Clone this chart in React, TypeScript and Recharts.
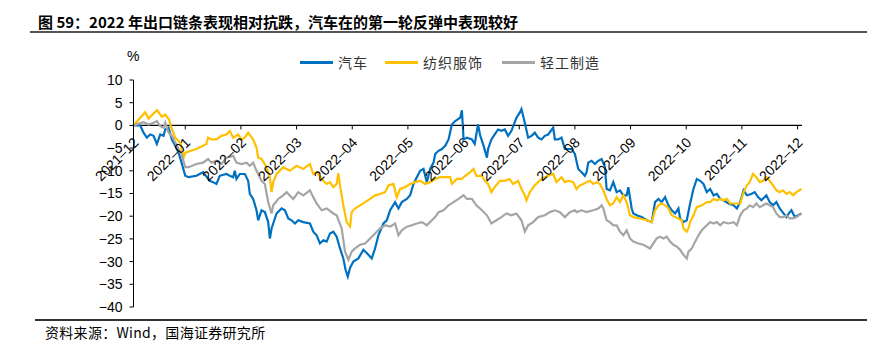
import React from "react";
import { LineChart, Line, XAxis, YAxis, ReferenceLine } from "recharts";

// x = months since the 2021-12 tick, y = cumulative change (%)
const autoSeries: [number, number][] = [
  [0.0, 0], [0.12, 0], [0.18, -1.6], [0.24, -2.7], [0.3, -2.0], [0.36, -2.3], [0.42, -4.1], [0.48, -2.0],
  [0.54, -2.3], [0.57, -0.9], [0.63, -0.5], [0.69, -3.1], [0.75, -4.5], [0.81, -6.0], [0.87, -8.5],
  [0.93, -11.1], [0.99, -11.4], [1.13, -11.1], [1.25, -10.3], [1.37, -12.2], [1.43, -12.5], [1.49, -12.9],
  [1.55, -11.1], [1.67, -10.7], [1.73, -11.1], [1.79, -11.4], [1.82, -10.0], [1.85, -11.8], [1.91, -10.7],
  [2.0, -10.7], [2.06, -12.2], [2.09, -15.1], [2.15, -16.2], [2.21, -18.7], [2.24, -20.9], [2.3, -18.7],
  [2.36, -19.1], [2.42, -21.3], [2.45, -24.9], [2.48, -22.7], [2.57, -19.4], [2.66, -18.3], [2.72, -18.7],
  [2.78, -20.5], [2.84, -20.9], [2.9, -21.6], [2.96, -20.9], [3.05, -21.3], [3.17, -21.6], [3.23, -23.4],
  [3.29, -24.2], [3.35, -26.0], [3.41, -25.3], [3.47, -25.6], [3.53, -23.8], [3.59, -23.4], [3.65, -24.5],
  [3.71, -27.1], [3.77, -29.3], [3.81, -31.8], [3.85, -33.3], [3.89, -31.4], [3.95, -30.0], [4.04, -29.3],
  [4.13, -27.4], [4.22, -28.5], [4.28, -29.3], [4.34, -27.1], [4.4, -24.2], [4.49, -21.6], [4.55, -20.9],
  [4.61, -18.7], [4.7, -16.9], [4.76, -18.3], [4.82, -16.9], [4.91, -16.2], [4.97, -15.4], [5.03, -12.9],
  [5.09, -11.4], [5.15, -10.0], [5.21, -9.6], [5.27, -12.5], [5.33, -9.6], [5.39, -8.2], [5.42, -6.3],
  [5.48, -5.6], [5.54, -5.2], [5.6, -4.5], [5.66, -3.1], [5.72, 0.2], [5.78, 0.95], [5.87, 1.7], [5.9, 3.35],
  [5.93, -3.1], [5.99, -2.7], [6.08, -3.1], [6.13, -4.1], [6.19, 0.2], [6.23, -2.3], [6.29, -4.5], [6.35, -7.1],
  [6.37, -5.2], [6.43, -3.1], [6.49, -2.0], [6.55, -0.9], [6.61, -1.2], [6.67, -0.9], [6.73, -2.3], [6.79, -1.2],
  [6.88, 1.7], [6.94, 2.8], [6.97, 3.6], [7.03, 0.6], [7.09, -2.7], [7.15, -2.3], [7.21, -1.6], [7.27, -2.7],
  [7.33, -3.1], [7.39, -2.3], [7.45, -2.0], [7.54, -0.5], [7.57, -3.1], [7.63, -3.1], [7.69, -2.7], [7.75, -5.2],
  [7.81, -5.2], [7.87, -5.2], [7.93, -6.3], [7.99, -9.6], [8.05, -10.3], [8.11, -11.1], [8.14, -10.3],
  [8.17, -8.2], [8.23, -7.8], [8.29, -8.5], [8.35, -7.8], [8.41, -7.4], [8.47, -9.2], [8.5, -14.0],
  [8.56, -14.3], [8.62, -12.5], [8.68, -14.7], [8.74, -14.3], [8.8, -15.4], [8.86, -15.4], [8.89, -13.6],
  [8.95, -18.3], [8.98, -19.4], [9.04, -19.8], [9.13, -20.2], [9.22, -20.9], [9.31, -21.3], [9.37, -16.9],
  [9.43, -16.2], [9.49, -16.9], [9.55, -15.8], [9.61, -17.6], [9.67, -18.7], [9.73, -19.4], [9.79, -18.3],
  [9.82, -20.5], [9.88, -21.3], [9.94, -20.9], [10.0, -17.2], [10.06, -14.0], [10.12, -11.8], [10.18, -12.2],
  [10.24, -12.9], [10.3, -14.7], [10.36, -14.0], [10.42, -15.4], [10.48, -15.1], [10.54, -16.2], [10.6, -16.5],
  [10.69, -17.2], [10.78, -17.6], [10.84, -18.3], [10.9, -16.9], [10.96, -14.3], [11.02, -15.4], [11.1, -15.1],
  [11.16, -14.7], [11.22, -15.8], [11.28, -16.5], [11.37, -15.4], [11.43, -16.9], [11.49, -17.6], [11.55, -16.9],
  [11.61, -18.3], [11.73, -20.2], [11.79, -19.1], [11.82, -18.7], [11.88, -20.2], [11.94, -19.8], [12.0, -19.4],
];

const textileSeries: [number, number][] = [
  [0.0, 0], [0.21, 2.9], [0.27, 1.5], [0.42, 3.35], [0.51, 1.9], [0.57, 2.4], [0.64, 1.3], [0.67, -0.15],
  [0.75, -2.7], [0.84, -3.8], [0.9, -7.1], [0.93, -6.0], [1.13, -5.2], [1.31, -4.1], [1.34, -2.7], [1.4, -3.1],
  [1.49, -3.1], [1.58, -2.3], [1.67, -2.0], [1.73, -1.2], [1.79, -2.7], [1.88, -2.0], [1.94, -3.1], [2.0, -2.7],
  [2.06, -1.6], [2.15, -3.1], [2.21, -4.9], [2.24, -7.1], [2.3, -7.4], [2.39, -9.2], [2.45, -11.4], [2.48, -14.7],
  [2.51, -12.5], [2.57, -10.7], [2.69, -9.2], [2.81, -10.0], [2.93, -8.9], [3.05, -9.6], [3.17, -8.5],
  [3.23, -10.7], [3.29, -10.3], [3.41, -12.2], [3.47, -12.9], [3.53, -12.5], [3.59, -13.6], [3.65, -12.9],
  [3.68, -10.5], [3.71, -13.2], [3.77, -17.6], [3.83, -21.3], [3.89, -22.3], [3.92, -19.1], [3.98, -18.3],
  [4.07, -17.6], [4.16, -16.9], [4.25, -16.2], [4.34, -15.4], [4.43, -15.1], [4.52, -14.7], [4.58, -13.2],
  [4.67, -12.9], [4.73, -15.8], [4.79, -14.0], [4.88, -13.6], [4.97, -12.9], [5.06, -12.5], [5.15, -12.2],
  [5.24, -12.9], [5.33, -12.5], [5.42, -11.8], [5.51, -11.4], [5.6, -11.4], [5.69, -11.4], [5.72, -12.9],
  [5.81, -11.8], [5.9, -11.8], [5.96, -11.1], [6.05, -10.3], [6.11, -9.6], [6.16, -11.1], [6.26, -11.1],
  [6.31, -12.2], [6.37, -12.9], [6.43, -14.7], [6.49, -13.6], [6.58, -12.2], [6.67, -12.2], [6.76, -11.8],
  [6.82, -12.9], [6.91, -12.2], [6.97, -14.0], [7.03, -15.4], [7.06, -16.5], [7.12, -14.7], [7.21, -13.2],
  [7.33, -11.8], [7.45, -11.1], [7.54, -10.7], [7.6, -12.5], [7.69, -11.4], [7.75, -12.5], [7.81, -12.2],
  [7.9, -12.5], [7.96, -14.0], [8.02, -13.2], [8.08, -12.9], [8.14, -12.5], [8.2, -12.2], [8.26, -12.9],
  [8.32, -12.5], [8.38, -12.9], [8.44, -14.3], [8.5, -16.2], [8.56, -17.6], [8.62, -17.2], [8.68, -15.8],
  [8.74, -16.9], [8.8, -15.4], [8.86, -16.9], [8.92, -19.8], [8.98, -20.2], [9.1, -20.5], [9.22, -20.9],
  [9.31, -21.3], [9.37, -18.7], [9.43, -17.6], [9.49, -17.2], [9.55, -17.6], [9.61, -18.3], [9.67, -19.8],
  [9.73, -20.2], [9.79, -20.5], [9.85, -20.9], [9.88, -22.7], [9.94, -23.4], [9.97, -22.7], [10.0, -21.3],
  [10.06, -19.8], [10.12, -18.0], [10.21, -17.6], [10.3, -16.9], [10.36, -16.9], [10.42, -16.2], [10.48, -16.5],
  [10.54, -16.2], [10.6, -16.5], [10.66, -16.2], [10.72, -17.2], [10.78, -17.2], [10.9, -17.2], [10.96, -14.7],
  [11.02, -13.2], [11.07, -12.5], [11.13, -10.7], [11.19, -11.4], [11.25, -12.5], [11.31, -12.2], [11.37, -11.4],
  [11.43, -12.2], [11.49, -13.2], [11.55, -14.3], [11.61, -14.7], [11.67, -14.3], [11.73, -15.1], [11.79, -14.7],
  [11.85, -15.4], [11.91, -14.7], [12.0, -14.0],
];

const lightSeries: [number, number][] = [
  [0.0, 0], [0.18, 0.7], [0.27, 0.2], [0.36, 0.6], [0.42, 0.95], [0.48, -0.15], [0.54, -0.5], [0.57, 0.6],
  [0.63, -1.6], [0.69, -2.3], [0.78, -4.5], [0.87, -6.7], [0.93, -9.2], [0.99, -9.2], [1.13, -8.5], [1.25, -8.2],
  [1.34, -7.4], [1.4, -8.2], [1.49, -7.8], [1.58, -8.5], [1.67, -7.1], [1.79, -6.7], [1.85, -8.2], [1.94, -8.5],
  [2.03, -8.2], [2.09, -8.9], [2.15, -8.2], [2.21, -10.0], [2.3, -12.2], [2.36, -12.9], [2.42, -16.9],
  [2.48, -19.4], [2.51, -17.6], [2.6, -16.2], [2.69, -15.4], [2.75, -14.7], [2.87, -16.2], [2.96, -14.7],
  [3.05, -15.4], [3.17, -14.3], [3.23, -15.8], [3.29, -17.2], [3.38, -18.7], [3.47, -18.3], [3.59, -19.4],
  [3.65, -19.8], [3.74, -22.7], [3.8, -27.8], [3.86, -29.6], [3.92, -27.8], [3.98, -27.1], [4.07, -26.3],
  [4.16, -26.0], [4.25, -24.9], [4.34, -23.8], [4.43, -22.7], [4.52, -22.0], [4.61, -22.3], [4.7, -21.6],
  [4.76, -24.2], [4.82, -23.1], [4.91, -22.3], [5.0, -22.0], [5.09, -21.6], [5.18, -21.3], [5.27, -22.0],
  [5.36, -20.9], [5.42, -20.2], [5.48, -19.1], [5.57, -18.7], [5.66, -17.6], [5.75, -16.9], [5.84, -16.2],
  [5.93, -15.4], [5.99, -16.2], [6.08, -16.2], [6.16, -17.6], [6.26, -18.7], [6.35, -19.8], [6.43, -21.6],
  [6.52, -20.9], [6.61, -20.2], [6.7, -19.4], [6.79, -19.8], [6.88, -19.4], [6.97, -20.9], [7.03, -23.4],
  [7.09, -22.0], [7.18, -21.3], [7.27, -20.2], [7.39, -19.8], [7.48, -19.1], [7.57, -18.7], [7.66, -19.1],
  [7.75, -20.2], [7.84, -19.1], [7.93, -18.7], [7.96, -19.1], [8.05, -18.7], [8.14, -19.1], [8.26, -18.7],
  [8.35, -18.3], [8.41, -17.6], [8.44, -18.3], [8.5, -20.9], [8.56, -21.3], [8.62, -22.0], [8.68, -22.0],
  [8.74, -23.4], [8.8, -24.2], [8.86, -23.1], [8.92, -24.9], [8.98, -25.6], [9.07, -26.0], [9.16, -26.3],
  [9.28, -27.1], [9.34, -26.0], [9.4, -24.9], [9.46, -24.5], [9.52, -24.9], [9.58, -24.5], [9.64, -25.6],
  [9.7, -26.3], [9.76, -26.7], [9.82, -27.4], [9.88, -28.5], [9.94, -29.3], [9.97, -27.8], [10.03, -27.1],
  [10.09, -25.6], [10.15, -24.2], [10.21, -23.1], [10.3, -22.0], [10.36, -21.3], [10.42, -21.6], [10.48, -21.3],
  [10.54, -22.0], [10.6, -21.3], [10.69, -21.6], [10.78, -21.3], [10.84, -22.0], [10.9, -19.8], [10.96, -18.7],
  [11.02, -18.3], [11.07, -17.6], [11.13, -18.0], [11.19, -17.2], [11.25, -18.0], [11.31, -17.6], [11.37, -17.2],
  [11.43, -17.6], [11.49, -18.0], [11.55, -19.4], [11.61, -20.2], [11.67, -20.2], [11.73, -19.8], [11.79, -20.5],
  [11.85, -20.5], [11.91, -20.2], [12.0, -19.4],
];

const seriesNames = ["汽车", "纺织服饰", "轻工制造"];
const seriesColors = ["#0070C0", "#FFC000", "#A5A5A5"];
const xTickLabels = [
  "2021–12", "2022–01", "2022–02", "2022–03", "2022–04", "2022–05", "2022–06",
  "2022–07", "2022–08", "2022–09", "2022–10", "2022–11", "2022–12",
];
const yTicks = [10, 5, 0, -5, -10, -15, -20, -25, -30, -35, -40];

const W = 875;
const H = 359;
const M = { top: 80, right: 73, bottom: 51, left: 0 };
const Y_AXIS_W = 133.5;
const X_AXIS_H = 1;
const Y_MIN = -40;
const Y_MAX = 10;
const X_MAX = 12.01;
const TICK_SHIFT = 0.07;
const xTickPos = xTickLabels.map((_, i) => (i === 0 ? 0 : i - TICK_SHIFT));

const plotTop = M.top;
const plotH = H - M.top - M.bottom - X_AXIS_H;
const zeroY = plotTop + (plotH * (Y_MAX - 0)) / (Y_MAX - Y_MIN);

const toRows = (s: [number, number][]) => s.map(([m, v]) => ({ m, v }));
const allSeries = [autoSeries, textileSeries, lightSeries].map(toRows);

const latin = "'Liberation Sans', Arial, sans-serif";
const cjk = "'Noto Sans CJK SC', 'Noto Sans', sans-serif";

const XTick = (props: any) => {
  const { x, payload } = props;
  const idx = xTickPos.indexOf(payload.value);
  const tx = x + 6;
  const ty = zeroY + 18;
  return (
    <g>
      <line x1={x} x2={x} y1={zeroY} y2={zeroY + 4} stroke="#000" strokeWidth={1} />
      <text
        x={tx}
        y={ty}
        transform={`rotate(-45 ${tx} ${ty})`}
        textAnchor="end"
        fontSize={14}
        fontFamily={latin}
        fill="#000"
      >
        {idx >= 0 ? xTickLabels[idx] : ""}
      </text>
    </g>
  );
};

const fmtY = (v: number) => (v < 0 ? "\u2212" + Math.abs(v) : String(v));

export default function App() {
  return (
    <div style={{ position: "relative", width: W, height: H, margin: -8, background: "#fff" }}>
      <div
        style={{
          position: "absolute",
          left: 38,
          top: 12,
          fontFamily: cjk,
          fontWeight: 700,
          fontSize: 15,
          color: "#000",
          whiteSpace: "nowrap",
          lineHeight: "20px",
        }}
      >
        图 59：2022 年出口链条表现相对抗跌，汽车在的第一轮反弹中表现较好
      </div>
      <div style={{ position: "absolute", left: 30, right: 0, top: 31, height: 2, background: "#555" }} />

      <div
        style={{
          position: "absolute",
          left: 0,
          top: 50,
          width: W,
          height: 24,
          fontFamily: cjk,
          fontSize: 14,
          color: "#333",
        }}
      >
        {seriesNames.map((n, i) => (
          <div
            key={n}
            style={{
              position: "absolute",
              left: [300, 385, 502][i],
              top: 0,
              display: "flex",
              alignItems: "center",
              height: 24,
              whiteSpace: "nowrap",
              letterSpacing: 1,
            }}
          >
            <span style={{ display: "inline-block", width: 33, height: 3, background: seriesColors[i], marginRight: 5 }} />
            {n}
          </div>
        ))}
      </div>

      <div style={{ position: "absolute", left: 127, top: 48, fontFamily: latin, fontSize: 14, color: "#000" }}>%</div>

      <div style={{ position: "absolute", left: 0, top: 0 }}>
        <LineChart width={W} height={H} margin={M}>
          <XAxis
            type="number"
            dataKey="m"
            domain={[0, X_MAX]}
            ticks={xTickPos}
            interval={0}
            height={X_AXIS_H}
            axisLine={false}
            tickLine={false}
            tick={<XTick />}
            allowDataOverflow
          />
          <YAxis
            type="number"
            domain={[Y_MIN, Y_MAX]}
            ticks={yTicks}
            interval={0}
            width={Y_AXIS_W}
            axisLine={{ stroke: "#000", strokeWidth: 1 }}
            tickLine={{ stroke: "#000", strokeWidth: 1 }}
            tickSize={4}
            tickMargin={7}
            tickFormatter={fmtY}
            tick={{ fontSize: 14, fontFamily: latin, fill: "#000" }}
          />
          <ReferenceLine y={0} stroke="#000" strokeWidth={1.3} />
          {allSeries.map((rows, i) => (
            <Line
              key={seriesNames[i]}
              data={rows}
              dataKey="v"
              name={seriesNames[i]}
              type="linear"
              stroke={seriesColors[i]}
              strokeWidth={2.2}
              dot={false}
              isAnimationActive={false}
            />
          ))}
        </LineChart>
      </div>

      <div style={{ position: "absolute", left: 35, right: 5, top: 319, height: 1.5, background: "#333" }} />
      <div
        style={{
          position: "absolute",
          left: 45,
          top: 323,
          fontFamily: cjk,
          fontSize: 14,
          letterSpacing: 0.3,
          color: "#000",
          whiteSpace: "nowrap",
          lineHeight: "18px",
        }}
      >
        资料来源：Wind，国海证券研究所
      </div>
    </div>
  );
}
